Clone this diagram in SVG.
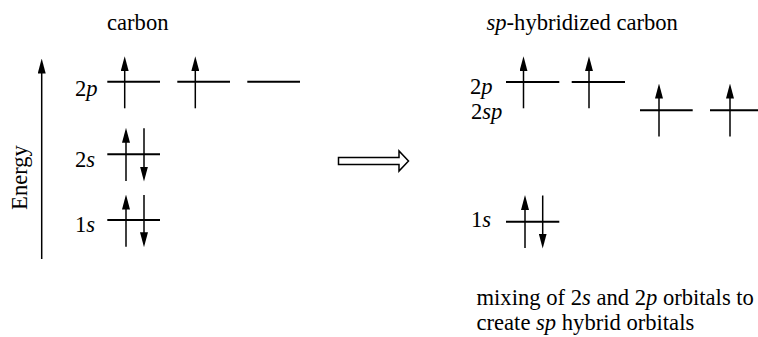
<svg xmlns="http://www.w3.org/2000/svg" width="758" height="337" viewBox="0 0 758 337">
<style>
text{font-family:"Liberation Serif","Times New Roman",serif;font-size:22.6px;fill:#000}
.i{font-style:italic}
.lvl{stroke:#000;stroke-width:2;fill:none}
.e{stroke:#000;stroke-width:1.5;fill:none;marker-end:url(#ah)}
.blk{stroke:#000;stroke-width:1.5;fill:#fff;stroke-linejoin:miter}
</style>
<defs>
<marker id="ah" markerUnits="userSpaceOnUse" markerWidth="15" markerHeight="8" refX="10.5" refY="4" orient="auto">
<path d="M0,0 L15,4 L0,8 z" fill="#000"/>
</marker>
</defs>
<rect width="758" height="337" fill="#fff"/>

<g id="title-carbon"><text x="107" y="30">carbon</text></g>
<g id="title-sp"><text x="486.5" y="30"><tspan class="i">sp</tspan>-hybridized carbon</text></g>

<g id="energy-axis">
<line class="e" x1="41.7" y1="259" x2="41.7" y2="63"/>
<text transform="translate(27,177.5) rotate(-90)" text-anchor="middle">Energy</text>
</g>

<g id="left-2p">
<text x="75" y="95.5">2<tspan class="i">p</tspan></text>
<line class="lvl" x1="107.3" y1="81.7" x2="160" y2="81.7"/>
<line class="lvl" x1="177.3" y1="81.7" x2="230" y2="81.7"/>
<line class="lvl" x1="247.3" y1="81.7" x2="300" y2="81.7"/>
<line class="e" x1="124.7" y1="108.3" x2="124.7" y2="60.7"/>
<line class="e" x1="195.3" y1="108.3" x2="195.3" y2="60.7"/>
</g>

<g id="left-2s">
<text x="75" y="167">2<tspan class="i">s</tspan></text>
<line class="lvl" x1="107.3" y1="154.3" x2="160" y2="154.3"/>
<line class="e" x1="126" y1="181" x2="126" y2="132.3"/>
<line class="e" x1="144" y1="128.3" x2="144" y2="177"/>
</g>

<g id="left-1s">
<text x="75" y="232">1<tspan class="i">s</tspan></text>
<line class="lvl" x1="107.3" y1="220" x2="160" y2="220"/>
<line class="e" x1="126" y1="246.7" x2="126" y2="199"/>
<line class="e" x1="144" y1="195" x2="144" y2="242.7"/>
</g>

<g id="connectors">
<polygon class="blk" points="338.5,157.5 399,157.5 399,151 408.5,161 399,171 399,164.5 338.5,164.5"/>
</g>

<g id="right-2p">
<text x="470" y="94">2<tspan class="i">p</tspan></text>
<line class="lvl" x1="506" y1="82" x2="559.3" y2="82"/>
<line class="lvl" x1="571.7" y1="82" x2="625" y2="82"/>
<line class="e" x1="523.5" y1="108.3" x2="523.5" y2="60.7"/>
<line class="e" x1="589" y1="108.3" x2="589" y2="60.7"/>
</g>

<g id="right-2sp">
<text x="471" y="119">2<tspan class="i">sp</tspan></text>
<line class="lvl" x1="640" y1="110.3" x2="692.7" y2="110.3"/>
<line class="lvl" x1="710" y1="110.3" x2="763" y2="110.3"/>
<line class="e" x1="659" y1="136.5" x2="659" y2="88"/>
<line class="e" x1="730" y1="136.5" x2="730" y2="88"/>
</g>

<g id="right-1s">
<text x="471" y="226.5">1<tspan class="i">s</tspan></text>
<line class="lvl" x1="506" y1="221.7" x2="559.3" y2="221.7"/>
<line class="e" x1="525" y1="248" x2="525" y2="199.5"/>
<line class="e" x1="542.7" y1="195.5" x2="542.7" y2="244"/>
</g>

<g id="caption">
<text x="476.5" y="305">mixing of 2<tspan class="i">s</tspan> and 2<tspan class="i">p</tspan> orbitals to</text>
<text x="476.5" y="330">create <tspan class="i">sp</tspan> hybrid orbitals</text>
</g>
</svg>
